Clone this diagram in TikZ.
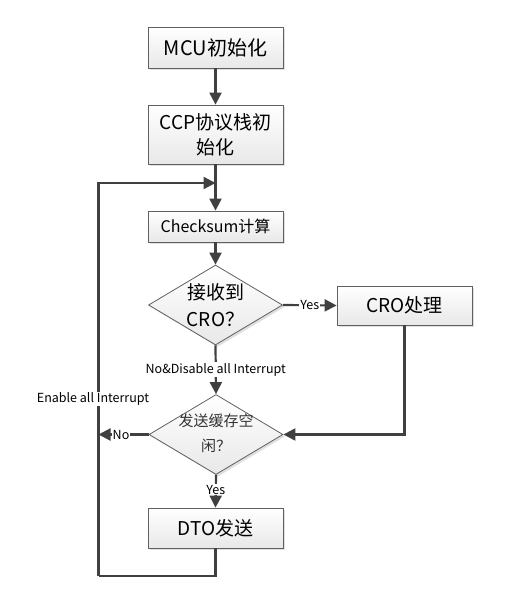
\documentclass[tikz,border=0pt]{standalone}
\usepackage{fontspec}
\setmainfont{Noto Sans CJK SC}
\usetikzlibrary{shapes.geometric,arrows.meta,shadows}
\definecolor{linec}{HTML}{404040}
\definecolor{borderc}{HTML}{606060}
\begin{document}
\begin{tikzpicture}[x=1pt,y=-1pt,
  boxst/.style={rectangle,draw=borderc,line width=0.8pt,top color=white,bottom color=gray!18,
     drop shadow={shadow xshift=2pt,shadow yshift=-2pt,opacity=0.25,fill=gray},
     minimum width=135pt,inner sep=0pt,align=center},
  decst/.style={diamond,draw=borderc,line width=0.8pt,top color=white,bottom color=gray!18,
     drop shadow={shadow xshift=2pt,shadow yshift=-2pt,opacity=0.25,fill=gray},
     minimum width=134pt,minimum height=80pt,inner sep=0pt},
  conn/.style={draw=linec,line width=2.2pt,-{Triangle[length=12pt,width=12pt]}},
  plain/.style={draw=linec,line width=2.2pt},
  lbl/.style={font=\fontsize{12.5}{14}\selectfont,fill=white,inner sep=1pt,text=black}
]
\useasboundingbox (0,0) rectangle (508,594);
\node[boxst,minimum height=41pt,font=\fontsize{20}{24}\selectfont] (mcu) at (215.5,47.5) {MCU初始化};
\node[boxst,minimum height=59pt,font=\fontsize{19}{25}\selectfont] (ccp) at (215.5,134.5) {CCP协议栈初\\始化};
\node[boxst,minimum height=31pt,font=\fontsize{16}{19}\selectfont] (chk) at (215.5,226.5) {Checksum计算};
\node[decst] (d1) at (215.5,305) {};
\node[align=center,font=\fontsize{19}{27}\selectfont,inner sep=0pt] (d1t) at (215.5,305) {接收到\\CRO？};
\node[boxst,minimum height=39pt,font=\fontsize{19}{23}\selectfont] (cro) at (404.5,305.5) {CRO处理};
\node[decst] (d2) at (216,434.5) {};
\node[align=center,font=\fontsize{15}{25}\selectfont,inner sep=0pt,text=black!80] (d2t) at (216,433) {发送缓存空\\闲？};
\node[boxst,minimum height=40pt,font=\fontsize{19}{23}\selectfont] (dto) at (215.5,528) {DTO发送};

\coordinate (m) at (215.5,183);
\coordinate (bl) at (98.5,576);
\coordinate (nl) at (98.5,434.5);

\draw[conn] (mcu.south) -- (ccp.north);
\draw[plain] (ccp.south) -- (m);
\draw[conn] (m) -- (chk.north);
\draw[conn] (chk.south) -- (d1.north);
\draw[conn] (d1.east) -- node[lbl] (yes1) {Yes} (cro.west);
\draw[conn] (d1.south) -- node[lbl,pos=0.5] (no1) {No\&Disable all Interrupt} (d2.north);
\draw[conn] (cro.south) |- (d2.east);
\draw[conn] (d2.west) -- node[lbl,pos=0.55] (no2) {No} (nl);
\draw[conn] (d2.south) -- node[lbl,pos=0.45] (yes2) {Yes} (dto.north);
\draw[plain] (dto.south) |- (bl);
\draw[conn] (bl) |- (m);
\node[lbl] (en) at (93,399) {Enable all Interrupt};
\end{tikzpicture}
\end{document}
